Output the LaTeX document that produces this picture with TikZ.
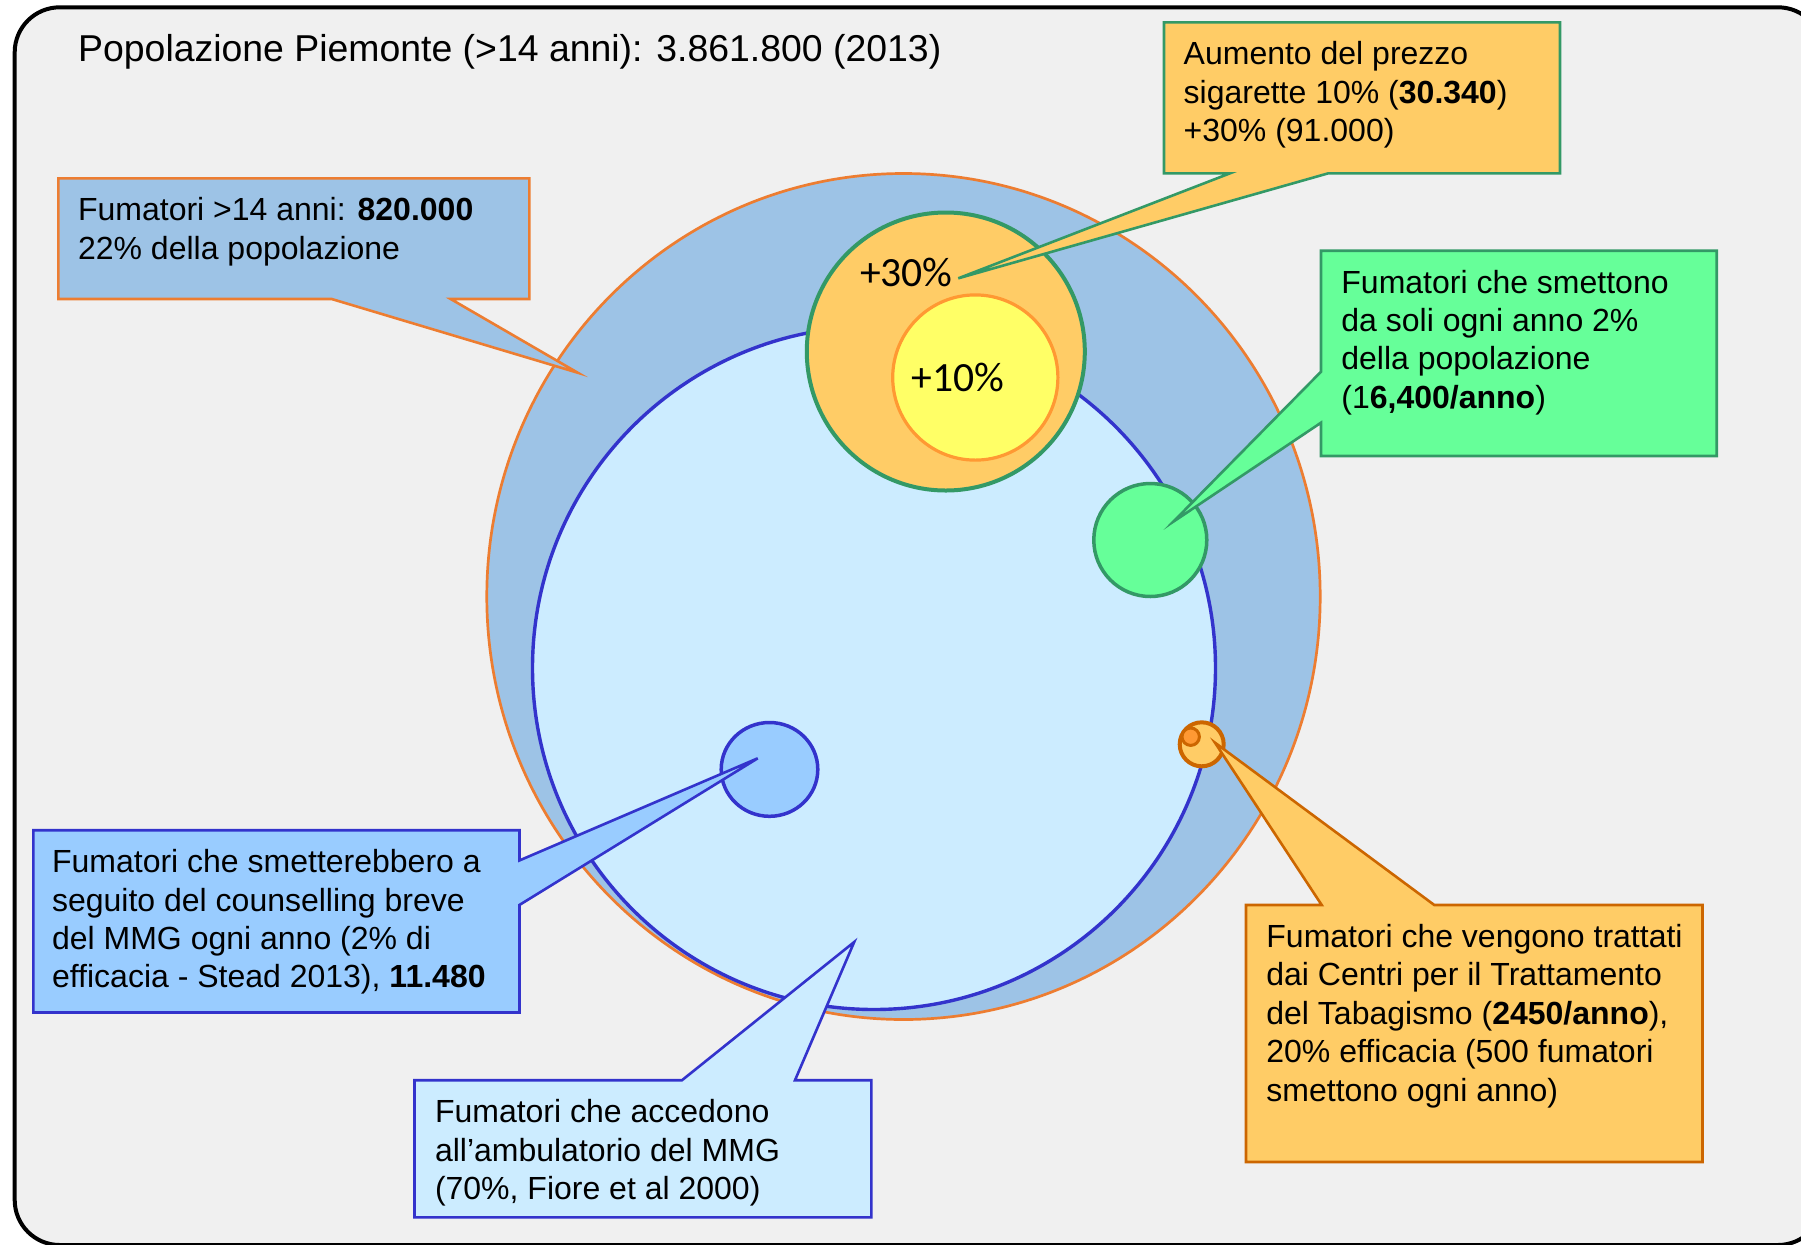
\documentclass[tikz,border=0pt]{standalone}
\usepackage{fontspec}
\setmainfont{Liberation Sans}
\newfontfamily\calibfont{Carlito}
\usetikzlibrary{shapes.geometric}

\definecolor{bggray}{HTML}{F0F0F0}
\definecolor{popfill}{HTML}{9DC3E6}
\definecolor{popline}{HTML}{ED7D31}
\definecolor{mmgfill}{HTML}{CCECFF}
\definecolor{mmgline}{HTML}{3333CC}
\definecolor{counsfill}{HTML}{99CCFF}
\definecolor{prezzofill}{HTML}{FFCC66}
\definecolor{greenline}{HTML}{339966}
\definecolor{yellowfill}{HTML}{FFFF66}
\definecolor{lightorange}{HTML}{FF9933}
\definecolor{solifill}{HTML}{66FF99}
\definecolor{ctline}{HTML}{CC6600}

\tikzset{
  boxtext/.style={anchor=north west, inner sep=0pt, align=left,
    font=\fontsize{16}{19.2}\selectfont},
  disc/.style={circle, inner sep=0pt, outer sep=0pt},
  oval/.style={ellipse, inner sep=0pt, outer sep=0pt},
  callout/.style={line width=1.3pt, line join=miter},
  perc/.style={anchor=base, inner sep=0pt,
    font=\calibfont\fontsize{20.8}{25}\selectfont}
}

\begin{document}
\begin{tikzpicture}[x=0.5pt, y=-0.5pt]
  \useasboundingbox (0,0) rectangle (1801,1244);
  \clip (0,0) rectangle (1801,1244);
  \fill[white] (0,0) rectangle (1801,1244);
  % cornice
  \draw[line width=2pt, fill=bggray, rounded corners=22.5pt]
    (14.7,7.3) rectangle (1823,1245);

  \node[anchor=base west, inner sep=0pt, font=\fontsize{18.7}{22}\selectfont]
    (titolo) at (77.8,61) {Popolazione Piemonte (>14 anni): 3.861.800 (2013)};

  % cerchi
  \node[oval, draw=popline, fill=popfill, line width=1.35pt,
    minimum width=416.7pt, minimum height=423pt] (fumatori) at (903.5,596.5) {};
  \node[disc, draw=mmgline, fill=mmgfill, line width=1.7pt,
    minimum size=341.5pt] (mmg) at (874,668) {};
  \node[oval, draw=mmgline, fill=counsfill, line width=1.75pt,
    minimum width=48.3pt, minimum height=46.9pt] (couns) at (769.5,769.4) {};
  \node[disc, draw=greenline, fill=solifill, line width=1.75pt,
    minimum size=56.5pt] (soli) at (1150.3,540) {};
  \node[disc, draw=ctline, fill=prezzofill, line width=2pt,
    minimum size=22pt] (ctt) at (1201.7,744.3) {};
  \node[disc, draw=ctline, fill=lightorange, line width=1.5pt,
    minimum size=8.7pt] (cttdot) at (1190.7,736.7) {};
  \node[disc, draw=greenline, fill=prezzofill, line width=2pt,
    minimum size=139pt] (prezzo30) at (945.8,351.5) {};
  \node[disc, draw=lightorange, fill=yellowfill, line width=1.6pt,
    minimum size=82.6pt] (prezzo10) at (975.3,377.5) {};

  \node[perc] (lab30) at (906.4,286.7) {+30\%};
  \node[perc] (lab10) at (957.9,391.7) {+10\%};

  % punte dei fumetti
  \coordinate (tipfum) at (577.7,372.7);
  \coordinate (tipprezzo) at (958.3,278.3);
  \coordinate (tipsoli) at (1173.3,521.7);
  \coordinate (tipcouns) at (757.7,758.3);
  \coordinate (tipmmg) at (854.2,942);
  \coordinate (tipctt) at (1215,742.7);

  % fumetti
  \draw[callout, draw=popline, fill=popfill] (58.3,178.3)
    -- (529.3,178.3)
    -- (529.3,299)
    -- (450.7,299)
    -- (tipfum)
    -- (331.7,299)
    -- (58.3,299)
    -- cycle;
  \draw[callout, draw=greenline, fill=prezzofill] (1164,22.3)
    -- (1560,22.3)
    -- (1560,173.3)
    -- (1328.3,173.3)
    -- (tipprezzo)
    -- (1230,173.3)
    -- (1164,173.3)
    -- cycle;
  \draw[callout, draw=greenline, fill=solifill] (1321,250.7)
    -- (1716.7,250.7)
    -- (1716.7,456)
    -- (1321,456)
    -- (1321,422.7)
    -- (tipsoli)
    -- (1321,371.7)
    -- cycle;
  \draw[callout, draw=mmgline, fill=counsfill] (33.3,830.2)
    -- (519.5,830.2)
    -- (519.5,860.4)
    -- (tipcouns)
    -- (519.5,904.9)
    -- (519.5,1012.5)
    -- (33.3,1012.5)
    -- cycle;
  \draw[callout, draw=mmgline, fill=mmgfill] (414.5,1080.2)
    -- (682,1080.2)
    -- (tipmmg)
    -- (795,1080.2)
    -- (871.4,1080.2)
    -- (871.4,1217.4)
    -- (414.5,1217.4)
    -- cycle;
  \draw[callout, draw=ctline, fill=prezzofill] (1246,905)
    -- (1321.7,905)
    -- (tipctt)
    -- (1434.3,905)
    -- (1702.5,905)
    -- (1702.5,1162)
    -- (1246,1162)
    -- cycle;

  % testi
  \node[boxtext] (fumtxt) at (77.7,197.1)
    {Fumatori >14 anni: \textbf{820.000}\\22\% della popolazione};
  \node[boxtext] (prezzotxt) at (1183.3,41.1)
    {Aumento del prezzo\\sigarette 10\% (\textbf{30.340})\\+30\% (91.000)};
  \node[boxtext] (solitxt) at (1341,269.5)
    {Fumatori che smettono\\da soli ogni anno 2\%\\della popolazione\\(1\textbf{6,400/anno})};
  \node[boxtext] (counstxt) at (51.7,849)
    {Fumatori che smetterebbero a\\seguito del counselling breve\\del MMG ogni anno (2\% di\\efficacia - Stead 2013), \textbf{11.480}};
  \node[boxtext] (mmgtxt) at (434.6,1099)
    {Fumatori che accedono\\all’ambulatorio del MMG\\(70\%, Fiore et al 2000)};
  \node[boxtext] (ctttxt) at (1266,923.8)
    {Fumatori che vengono trattati\\dai Centri per il Trattamento\\del Tabagismo (\textbf{2450/anno}),\\20\% efficacia (500 fumatori\\smettono ogni anno)};
\end{tikzpicture}
\end{document}
